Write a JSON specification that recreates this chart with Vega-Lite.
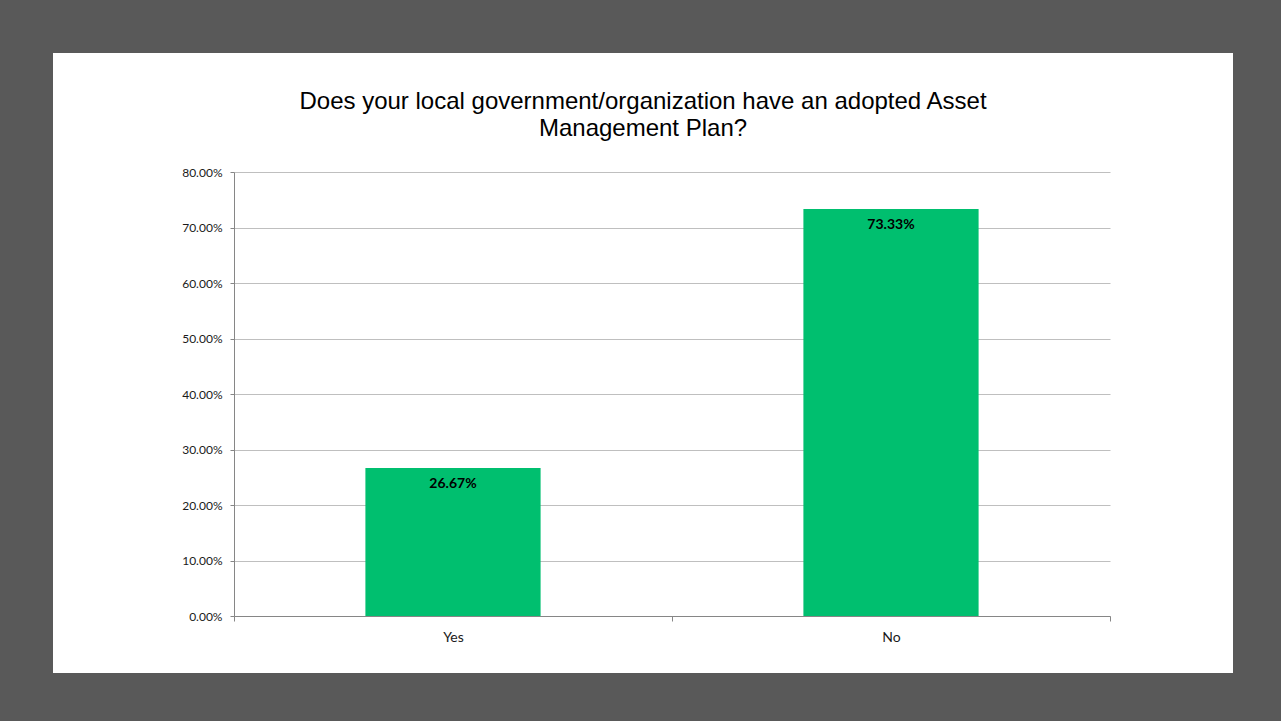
{
  "$schema": "https://vega.github.io/schema/vega-lite/v6.json",
  "width": 1180,
  "height": 620,
  "autosize": {"type": "none"},
  "padding": {"left": 53, "top": 53, "right": 48, "bottom": 48},
  "background": "#595959",
  "config": {
    "view": {"fill": "white", "stroke": null},
    "font": "Lato"
  },
  "title": {
    "text": ["Does your local government/organization have an adopted Asset", "Management Plan?"],
    "font": "Liberation Sans",
    "fontSize": 24,
    "fontWeight": "normal",
    "color": "#000000",
    "lineHeight": 27,
    "anchor": "middle",
    "baseline": "alphabetic",
    "offset": -54,
    "dy": 53
  },
  "data": {
    "values": [
      {"answer": "Yes", "share": 0.26667},
      {"answer": "No", "share": 0.73333}
    ]
  },
  "encoding": {
    "x": {
      "field": "answer",
      "type": "nominal",
      "sort": null,
      "scale": {"range": [181, 1057], "paddingInner": 0, "paddingOuter": 0},
      "axis": {
        "title": null,
        "labelAngle": 0,
        "offset": -57,
        "domainColor": "#868686",
        "tickColor": "#868686",
        "tickBand": "extent",
        "tickSize": 5,
        "labelPadding": 9,
        "labelFontSize": 14,
        "labelColor": "#1a1a1a",
        "grid": false
      }
    },
    "y": {
      "field": "share",
      "type": "quantitative",
      "scale": {"domain": [0, 0.8], "range": [563, 119], "nice": false},
      "axis": {
        "title": null,
        "format": ".2%",
        "values": [0, 0.1, 0.2, 0.3, 0.4, 0.5, 0.6, 0.7, 0.8],
        "offset": -181,
        "domainColor": "#868686",
        "tickColor": "#868686",
        "tickSize": 4,
        "labelPadding": 8,
        "labelFontSize": 12,
        "labelColor": "#1a1a1a",
        "gridColor": "#bfbfbf",
        "gridWidth": 1
      }
    }
  },
  "layer": [
    {"mark": {"type": "bar", "color": "#00BF6F", "width": {"band": 0.4}}},
    {
      "mark": {"type": "text", "baseline": "middle", "dy": 16, "fontWeight": "bold", "fontSize": 14, "color": "#000000"},
      "encoding": {"text": {"field": "share", "type": "quantitative", "format": ".2%"}}
    }
  ]
}
